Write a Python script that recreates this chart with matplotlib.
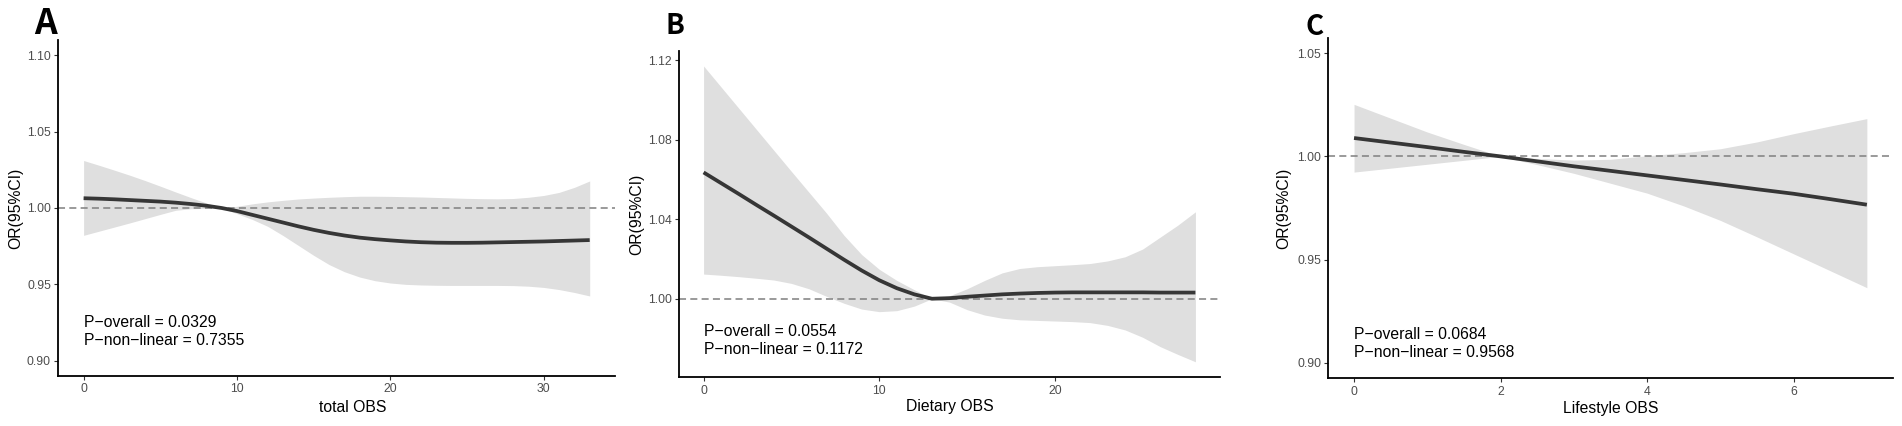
import matplotlib
matplotlib.use("Agg")
import matplotlib.pyplot as plt

plt.rcParams['font.family'] = ['Liberation Sans', 'DejaVu Sans']

W, H = 1902, 426

# ---------------- data ----------------
panel_letters = ["A", "B", "C"]
x_titles = ["total OBS", "Dietary OBS", "Lifestyle OBS"]
y_title = "OR(95%CI)"
p_texts = ["P\u2212overall = 0.0329\nP\u2212non\u2212linear = 0.7355",
           "P\u2212overall = 0.0554\nP\u2212non\u2212linear = 0.1172",
           "P\u2212overall = 0.0684\nP\u2212non\u2212linear = 0.9568"]

a_x = list(range(0, 34))
a_or = [1.0064, 1.0061, 1.0057, 1.0052, 1.0047, 1.0042, 1.0035, 1.0026, 1.0015, 1.0000,
        0.9980, 0.9955, 0.9930, 0.9905, 0.9880, 0.9857, 0.9837, 0.9820, 0.9806, 0.9796,
        0.9788, 0.9781, 0.9776, 0.9773, 0.9772, 0.9772, 0.9773, 0.9775, 0.9777, 0.9779,
        0.9781, 0.9784, 0.9787, 0.9790]
a_hi = [1.0311, 1.0280, 1.0248, 1.0215, 1.0180, 1.0143, 1.0105, 1.0068, 1.0033, 1.0000,
        1.0011, 1.0027, 1.0040, 1.0050, 1.0059, 1.0065, 1.0070, 1.0074, 1.0077, 1.0077,
        1.0076, 1.0074, 1.0072, 1.0069, 1.0066, 1.0063, 1.0061, 1.0060, 1.0062, 1.0070,
        1.0082, 1.0102, 1.0135, 1.0177]
a_lo = [0.9821, 0.9848, 0.9875, 0.9902, 0.9930, 0.9958, 0.9985, 0.9995, 0.9998, 1.0000,
        0.9963, 0.9925, 0.9880, 0.9820, 0.9755, 0.9690, 0.9630, 0.9583, 0.9548, 0.9524,
        0.9509, 0.9500, 0.9496, 0.9494, 0.9493, 0.9493, 0.9493, 0.9493, 0.9492, 0.9488,
        0.9480, 0.9466, 0.9447, 0.9424]

b_x = list(range(0, 29))
b_or = [1.0635, 1.0581, 1.0527, 1.0472, 1.0418, 1.0363, 1.0308, 1.0252, 1.0196, 1.0142,
        1.0093, 1.0053, 1.0022, 1.0000, 1.0003, 1.0010, 1.0016, 1.0022, 1.0026, 1.0029,
        1.0031, 1.0032, 1.0032, 1.0032, 1.0032, 1.0032, 1.0031, 1.0031, 1.0031]
b_hi = [1.1170, 1.1064, 1.0958, 1.0852, 1.0746, 1.0640, 1.0535, 1.0430, 1.0318, 1.0222,
        1.0148, 1.0092, 1.0045, 1.0000, 1.0015, 1.0050, 1.0092, 1.0130, 1.0152, 1.0161,
        1.0166, 1.0171, 1.0177, 1.0190, 1.0211, 1.0250, 1.0310, 1.0370, 1.0437]
b_lo = [1.0124, 1.0118, 1.0111, 1.0103, 1.0094, 1.0077, 1.0050, 1.0012, 0.9977, 0.9948,
        0.9935, 0.9940, 0.9963, 1.0000, 0.9983, 0.9945, 0.9918, 0.9902, 0.9894, 0.9891,
        0.9888, 0.9885, 0.9880, 0.9866, 0.9843, 0.9806, 0.9759, 0.9720, 0.9683]

c_x = [0, 0.5, 1, 1.5, 2, 2.5, 3, 3.5, 4, 4.5, 5, 5.5, 6, 6.5, 7]
c_or = [1.0089, 1.0067, 1.0045, 1.0022, 1.0000, 0.9976, 0.9952, 0.9930, 0.9908, 0.9886,
        0.9864, 0.9841, 0.9819, 0.9793, 0.9766]
c_hi = [1.0252, 1.0185, 1.0118, 1.0058, 1.0000, 0.9990, 0.9982, 0.9986, 1.0003, 1.0018,
        1.0037, 1.0070, 1.0110, 1.0147, 1.0183]
c_lo = [0.9924, 0.9943, 0.9962, 0.9981, 1.0000, 0.9960, 0.9918, 0.9870, 0.9822, 0.9760,
        0.9690, 0.9610, 0.9528, 0.9446, 0.9364]

a_xticks = [0, 10, 20, 30]
b_xticks = [0, 10, 20]
c_xticks = [0, 2, 4, 6]
a_yticks = [0.90, 0.95, 1.00, 1.05, 1.10]
b_yticks = [1.00, 1.04, 1.08, 1.12]
c_yticks = [0.90, 0.95, 1.00, 1.05]
a_yticklabels = ["0.90", "0.95", "1.00", "1.05", "1.10"]
b_yticklabels = ["1.00", "1.04", "1.08", "1.12"]
c_yticklabels = ["0.90", "0.95", "1.00", "1.05"]
ref_value = 1.0

# ---------------- layout / style ----------------
panels = [
    dict(x=a_x, y=a_or, lo=a_lo, hi=a_hi, xt=a_xticks, yt=a_yticks, ytl=a_yticklabels,
         box=(58.3, 615, 40, 376), xlim=(-1.65, 34.65), ylim=(0.89, 1.11),
         text_y=0.9189, ylab_x=15.5, xlab=(353, 412),
         letter=(34.0, 34.3, 25.5)),
    dict(x=b_x, y=b_or, lo=b_lo, hi=b_hi, xt=b_xticks, yt=b_yticks, ytl=b_yticklabels,
         box=(679, 1220, 50.7, 377.3), xlim=(-1.4, 29.4), ylim=(0.9605, 1.1247),
         text_y=0.9792, ylab_x=637, xlab=(949.5, 411.5),
         letter=(665.0, 34.3, 20)),
    dict(x=c_x, y=c_or, lo=c_lo, hi=c_hi, xt=c_xticks, yt=c_yticks, ytl=c_yticklabels,
         box=(1328.4, 1892.5, 37.7, 378.3), xlim=(-0.35, 7.35), ylim=(0.8925, 1.0575),
         text_y=0.9093, ylab_x=1284, xlab=(1610.5, 413),
         letter=(1305.5, 35, 20)),
]

fig = plt.figure(figsize=(W / 100, H / 100), dpi=100)

for i, p in enumerate(panels):
    l, r, t, b = p["box"]
    ax = fig.add_axes([l / W, 1 - b / H, (r - l) / W, (b - t) / H])
    ax.fill_between(p["x"], p["lo"], p["hi"], color="#DFDFDF", linewidth=0, zorder=1)
    ax.axhline(ref_value, color="#7F7F7F", linewidth=1.1, linestyle=(0, (4.6, 2.8)), zorder=2)
    ax.plot(p["x"], p["y"], color="#363636", linewidth=2.7, solid_capstyle="butt",
            solid_joinstyle="round", zorder=3)
    ax.set_xlim(*p["xlim"])
    ax.set_ylim(*p["ylim"])
    ax.set_xticks(p["xt"])
    ax.set_yticks(p["yt"])
    ax.set_yticklabels(p["ytl"])
    for s in ("top", "right"):
        ax.spines[s].set_visible(False)
    for s in ("left", "bottom"):
        ax.spines[s].set_linewidth(1.3)
        ax.spines[s].set_color("black")
    ax.tick_params(axis="both", length=2.9, width=0.8, color="#333333",
                   labelsize=8.8, labelcolor="#4D4D4D", pad=2.4)
    ax.text(0, p["text_y"], p_texts[i], ha="left", va="center", fontsize=11.3,
            color="black", linespacing=1.25, zorder=4)
    yc = 1 - ((t + b) / 2) / H
    fig.text(p["ylab_x"] / W, yc, y_title, rotation=90, ha="center", va="center",
             fontsize=11.3, color="black")
    fig.text(p["xlab"][0] / W, 1 - p["xlab"][1] / H, x_titles[i], ha="center",
             va="baseline", fontsize=11.3, color="black")
    lx, lb, ls = p["letter"]
    fig.text(lx / W, 1 - lb / H, panel_letters[i], ha="left", va="baseline",
             fontsize=ls, fontweight="bold",
             family=["Noto Sans CJK SC", "DejaVu Sans"], color="black")

fig.savefig("out.png", dpi=100)
